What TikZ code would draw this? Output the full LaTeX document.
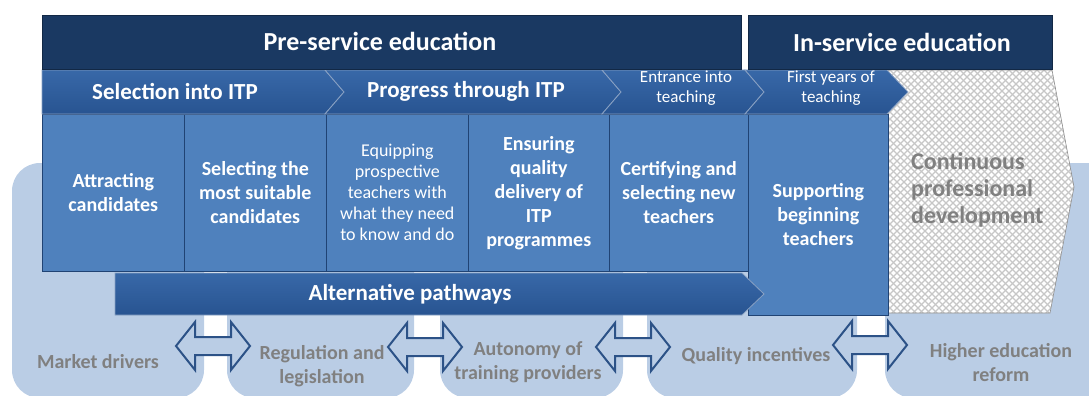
\documentclass[tikz,border=0pt]{standalone}
\usepackage{fontspec}
\setmainfont{Carlito}

\definecolor{navy}{RGB}{26,57,98}
\definecolor{stepblue}{RGB}{40,84,145}
\definecolor{steptop}{RGB}{56,104,168}
\definecolor{cellblue}{RGB}{79,129,189}
\definecolor{paleblue}{RGB}{186,205,229}
\definecolor{arrowblue}{RGB}{44,82,135}
\definecolor{labelgray}{RGB}{128,128,128}

\def\twoway(#1,#2){\draw[arrowline, shift={(#1,#2)}] (-37,0) -- (-18,-24) -- (-18,-9) -- (18,-9) -- (18,-24) -- (37,0) -- (18,24) -- (18,9) -- (-18,9) -- (-18,24) -- cycle;}
\def\cpdpath{(888,70) -- (1052,70) -- (1074,187) -- (1050,313) -- (888,313) -- cycle}

\tikzset{
  headfill/.style={fill=navy, draw=navy!70!black, line width=0.6pt},
  headtext/.style={text=white, inner sep=0pt, font=\fontsize{26}{30}\selectfont\bfseries},
  stepfill/.style={top color=steptop, bottom color=stepblue, draw=stepblue!55!white, line width=0.8pt},
  steptext/.style={text=white, inner sep=0pt, align=center, font=\fontsize{23}{27}\selectfont\bfseries},
  smalltext/.style={text=white, inner sep=0pt, align=center, font=\fontsize{17}{20}\selectfont},
  cellbox/.style={fill=cellblue, draw=stepblue!80!black, line width=0.6pt, anchor=north west, inner sep=0pt, text=white, align=center, font=\fontsize{20}{24}\selectfont\bfseries},
  lowlabel/.style={text=labelgray, inner sep=0pt, align=center, font=\fontsize{20}{24}\selectfont\bfseries},
  arrowline/.style={draw=arrowblue, fill=paleblue, line width=2pt, line join=miter},
  meshline/.style={draw=black!22, line width=1.3pt},
  blob/.style={fill=paleblue, rounded corners=28pt}
}

\begin{document}
\begin{tikzpicture}[x=1pt,y=-1pt]
			%%%%% START %%%%%
			\useasboundingbox (0,0) rectangle (1089,396);
			
			% background blobs
			\path[blob] (12,163) rectangle (204,398);
			\path[blob] (227,150) rectangle (414,398);
			\path[blob] (440,150) rectangle (623,398);
			\path[blob] (647,150) rectangle (857,398);
			\path[blob] (885,163) rectangle (1120,398);
			
			% double arrows
			\twoway(213,346)
			\twoway(425,347)
			\twoway(633,347)
			\twoway(870,345)
			
			\node[lowlabel] (market) at (98,362) {Market drivers};
			\node[lowlabel] (regulation) at (322,366) {Regulation and\\legislation};
			\node[lowlabel] (autonomy) at (528,362) {Autonomy of\\training providers};
			\node[lowlabel] (quality) at (756,356) {Quality incentives};
			\node[lowlabel] (higher) at (1001,363) {Higher education\\reform};
			
			% continuous professional development
			\fill[white] \cpdpath;
			\begin{scope}
				\clip \cpdpath;
				\foreach \k in {-250,-243,...,440} {
					\draw[meshline] ({888+\k},70) -- ++(250,250);
					\draw[meshline] ({888+\k},70) -- ++(-250,250);
				}
			\end{scope}
			\draw[draw=black!45, line width=0.6pt] \cpdpath;
			\node[lowlabel, anchor=west, align=left, font=\fontsize{24}{27}\selectfont\bfseries] (cpd) at (911,190) {Continuous\\professional\\development};
			
			% cells
			\node[cellbox, minimum width=142pt, minimum height=157pt] (attract) at (42,114) {Attracting\\candidates};
			\node[cellbox, minimum width=142pt, minimum height=157pt] (choose) at (184,114) {Selecting the\\most suitable\\candidates};
			\node[cellbox, minimum width=142pt, minimum height=157pt, font=\fontsize{18}{21}\selectfont] (equip) at (326,114) {Equipping\\prospective\\teachers with\\what they need\\to know and do};
			\node[cellbox, minimum width=141pt, minimum height=157pt] (ensure) at (468,114) {Ensuring\\quality\\delivery of\\ITP\\programmes};
			\node[cellbox, minimum width=139pt, minimum height=157pt] (certify) at (609,114) {Certifying and\\selecting new\\teachers};
			\node[cellbox, minimum width=140pt, minimum height=201pt] (support) at (748,114) {Supporting\\beginning\\teachers};
			
			% chevrons
			\draw[stepfill] (42,70) -- (325,70) -- (344,92) -- (325,114) -- (42,114) -- cycle;
			\draw[stepfill] (325,70) -- (602,70) -- (621,92) -- (602,114) -- (325,114) -- (344,92) -- cycle;
			\draw[stepfill] (602,70) -- (745,70) -- (764,92) -- (745,114) -- (602,114) -- (621,92) -- cycle;
			\draw[stepfill] (745,70) -- (887,70) -- (908,92) -- (887,114) -- (745,114) -- (764,92) -- cycle;
			\node[steptext] (selection) at (175,91) {Selection into ITP};
			\node[steptext] (progress) at (466,91) {Progress through ITP};
			\node[smalltext] (entrance) at (686,88) {Entrance into\\teaching};
			\node[smalltext] (firstyears) at (831,88) {First years of\\teaching};
			
			% headers
			\draw[headfill] (42,15) rectangle (741,69);
			\draw[headfill] (748,15) rectangle (1052,69);
			\node[headtext] (preservice) at (380,41) {Pre-service education};
			\node[headtext] (inservice) at (902,42) {In-service education};
			
			% alternative pathways
			\draw[stepfill] (115,273) -- (742,273) -- (764,294) -- (742,315) -- (115,315) -- cycle;
			\node[steptext] (alternative) at (410,294) {Alternative pathways};
			
			%%%%% END %%%%%
\end{tikzpicture}
\end{document}
